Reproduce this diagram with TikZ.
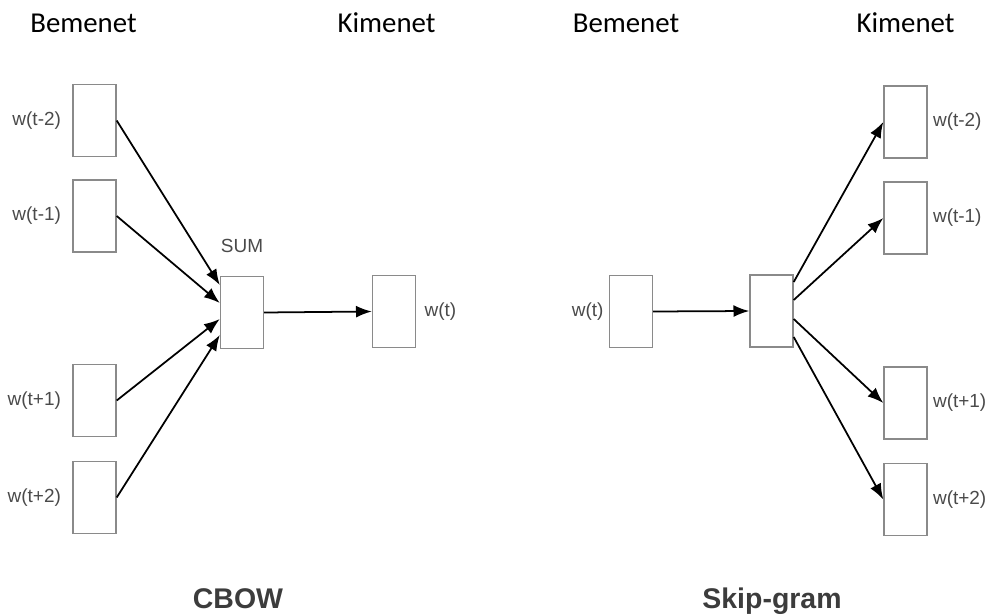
\documentclass[tikz,border=0pt]{standalone}
\usepackage{fontspec}
\setmainfont{Liberation Sans}
\newfontfamily\headfont{Carlito}
\usetikzlibrary{positioning, arrows.meta}
\definecolor{boxgray}{HTML}{8A8A8A}
\definecolor{lblgray}{HTML}{4A4A4A}
\definecolor{ttlgray}{HTML}{3C3C3C}
\tikzset{
    wbox/.style={draw=boxgray, line width=0.8pt, minimum width=0.86cm, minimum height=1.44cm, inner sep=0pt},
    wlbl/.style={text=lblgray, font=\fontsize{10.8}{13}\selectfont, inner sep=0pt},
    hdr/.style={font=\headfont\fontsize{16.4}{20}\selectfont, anchor=base, inner sep=0pt},
    ttl/.style={text=ttlgray, font=\bfseries\fontsize{16.2}{20}\selectfont, anchor=base, inner sep=0pt},
    arr/.style={-{Latex[length=9pt, width=6.8pt]}, line width=1pt}
}
\begin{document}
\begin{tikzpicture}[x=0.02cm, y=-0.02cm]
    \useasboundingbox (0,0) rectangle (990,615);
    \node [hdr] (cin) at (83.5,33) {Bemenet};
    \node [hdr] (cout) at (386.5,33) {Kimenet};
    \node [hdr] (sin) at (626,33) {Bemenet};
    \node [hdr] (sout) at (905.5,33) {Kimenet};
    \node [ttl] (cbow) at (238,608) {CBOW};
    \node [ttl] (skip) at (772,608) {Skip-gram};
	\node [wbox] (cin1) at (94.5,120.5) {};
	\node [wbox] (cin2) at (94.5,216) {};
	\node [wbox] (cin3) at (94.5,400.5) {};
	\node [wbox] (cin4) at (94.5,497.5) {};
	\node [wbox] (sum) at (242,312.5) {};
	\node [wbox] (cw) at (394,311.5) {};
	\node [wlbl, left=0.22cm of cin1] (lcin1) {w(t-2)};
	\node [wlbl, left=0.22cm of cin2] (lcin2) {w(t-1)};
	\node [wlbl, left=0.22cm of cin3] (lcin3) {w(t+1)};
	\node [wlbl, left=0.22cm of cin4] (lcin4) {w(t+2)};
	\node [wlbl, above=0.46cm of sum] (lsum) {SUM};
	\node [wlbl, right=0.16cm of cw] (lcw) {w(t)};
	\draw [arr] (cin1.east) -- ([yshift=0.55cm]sum.west);
	\draw [arr] (cin2.east) -- ([yshift=0.19cm]sum.west);
	\draw [arr] (cin3.east) -- ([yshift=-0.13cm]sum.west);
	\draw [arr] (cin4.east) -- ([yshift=-0.45cm]sum.west);
	\draw [arr] (sum.east) -- (cw.west);
	\node [wbox] (sw) at (631,311.5) {};
	\node [wbox] (hid) at (771.5,311) {};
	\node [wbox] (sout1) at (905.5,122) {};
	\node [wbox] (sout2) at (905.5,218) {};
	\node [wbox] (sout3) at (905.5,403) {};
	\node [wbox] (sout4) at (905.5,499.5) {};
	\node [wlbl, left=0.1cm of sw] (lsw) {w(t)};
	\node [wlbl, right=0.1cm of sout1] (lsout1) {w(t-2)};
	\node [wlbl, right=0.1cm of sout2] (lsout2) {w(t-1)};
	\node [wlbl, right=0.1cm of sout3] (lsout3) {w(t+1)};
	\node [wlbl, right=0.1cm of sout4] (lsout4) {w(t+2)};
	\draw [arr] (sw.east) -- (hid.west);
	\draw [arr] ([yshift=0.58cm]hid.east) -- (sout1.west);
	\draw [arr] ([yshift=0.22cm]hid.east) -- (sout2.west);
	\draw [arr] ([yshift=-0.16cm]hid.east) -- (sout3.west);
	\draw [arr] ([yshift=-0.52cm]hid.east) -- (sout4.west);
\end{tikzpicture}
\end{document}
